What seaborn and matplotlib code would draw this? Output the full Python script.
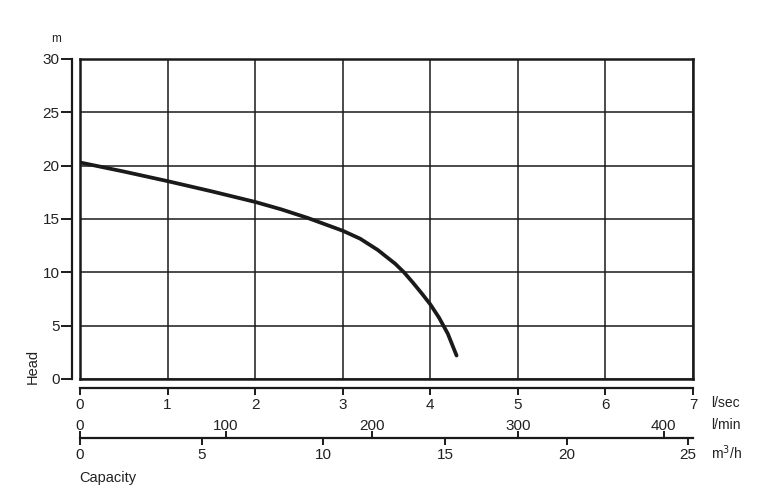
import matplotlib
matplotlib.use("Agg")
import matplotlib.pyplot as plt
import seaborn as sns
import pandas as pd

# ---- data ----
flow_lsec = [0.0, 0.5, 1.0, 1.5, 2.0, 2.3, 2.6, 2.9, 3.0, 3.2, 3.4, 3.6, 3.7, 3.8, 3.9, 4.0, 4.1, 4.2, 4.3]
head_m = [20.3, 19.45, 18.55, 17.6, 16.6, 15.9, 15.1, 14.2, 13.9, 13.15, 12.1, 10.8, 10.0, 9.05, 8.05, 7.0, 5.75, 4.25, 2.2]
lsec_ticks = [0, 1, 2, 3, 4, 5, 6, 7]
lmin_ticks = [0, 100, 200, 300, 400]
m3h_ticks = [0, 5, 10, 15, 20, 25]
head_ticks = [0, 5, 10, 15, 20, 25, 30]

sns.set_style("white")
plt.rcParams['font.family'] = ['Liberation Sans', 'DejaVu Sans']

W, H = 768, 492
fig = plt.figure(figsize=(W / 100, H / 100), dpi=100)


def rect(l, t, r, b):
    return [l / W, 1 - b / H, (r - l) / W, (b - t) / H]


INK = '#1a1a1a'
TXT = '#222222'
FS = 11

# main grid box
ax = fig.add_axes(rect(80, 59, 693, 379))
ax.set_xlim(0, 7)
ax.set_ylim(0, 30)
ax.set_xticks(lsec_ticks)
ax.set_yticks(head_ticks)
ax.grid(True, color=INK, lw=1.1)
ax.tick_params(length=0, labelbottom=False, labelleft=False)
for s in ax.spines.values():
    s.set_visible(True)
    s.set_color(INK)
    s.set_linewidth(1.8)
df = pd.DataFrame({'q': flow_lsec, 'h': head_m})
sns.lineplot(data=df, x='q', y='h', ax=ax, color=INK, lw=2.7, sort=False)
ax.set_xlabel('')
ax.set_ylabel('')

# separate head axis
yax = fig.add_axes(rect(72, 59, 72.01, 379))
yax.set_ylim(0, 30)
yax.set_yticks(head_ticks)
yax.set_xticks([])
for k, s in yax.spines.items():
    s.set_visible(k == 'left')
    s.set_color(INK)
    s.set_linewidth(1.6)
yax.tick_params(axis='y', direction='out', length=8, width=1.4, color=INK,
                labelsize=FS, pad=1, left=True, labelcolor=TXT)
yax.patch.set_alpha(0)

# l/sec axis
lax = fig.add_axes(rect(80, 388, 693, 388.01))
lax.set_xlim(0, 7)
lax.set_xticks(lsec_ticks)
lax.set_yticks([])
for k, s in lax.spines.items():
    s.set_visible(k == 'bottom')
    s.set_color(INK)
    s.set_linewidth(1.6)
lax.tick_params(axis='x', direction='out', length=5, width=1.4, color=INK,
                labelsize=FS, pad=2, bottom=True, labelcolor=TXT)
lax.patch.set_alpha(0)

# l/min (top) and m3/h (bottom) axis
max_ = fig.add_axes(rect(80, 438, 693, 438.01))
max_.set_xlim(0, 25.2)
max_.set_xticks(m3h_ticks)
max_.set_yticks([])
for k, s in max_.spines.items():
    s.set_visible(k == 'bottom')
    s.set_color(INK)
    s.set_linewidth(1.6)
max_.tick_params(axis='x', direction='out', length=5, width=1.4, color=INK,
                 labelsize=FS, pad=2, bottom=True, labelcolor=TXT)
max_.patch.set_alpha(0)

minax = max_.twiny()
minax.set_xlim(0, 420)
minax.set_xticks(lmin_ticks)
for s in minax.spines.values():
    s.set_visible(False)
minax.xaxis.set_ticks_position('top')
minax.tick_params(axis='x', direction='out', length=5, width=1.4, color=INK,
                  labelsize=FS, pad=-1.5, top=True, labeltop=True, bottom=False,
                  labelbottom=False, labelcolor=TXT)

# texts
fig.text(56 / W, 1 - 39 / H, 'm', ha='center', va='center', fontsize=8.5, color=TXT)
fig.text(33 / W, 1 - 366 / H, 'Head', ha='center', va='center', rotation=90,
         fontsize=10.5, color=TXT)
fig.text(711 / W, 1 - 403 / H, 'l/sec', ha='left', va='center', fontsize=10, color=TXT)
fig.text(711 / W, 1 - 425 / H, 'l/min', ha='left', va='center', fontsize=10, color=TXT)
fig.text(711 / W, 1 - 453 / H, 'm$^3$/h', ha='left', va='center', fontsize=10, color=TXT)
fig.text(79 / W, 1 - 478 / H, 'Capacity', ha='left', va='center', fontsize=10.5, color=TXT)

fig.savefig('out.png', dpi=100)
